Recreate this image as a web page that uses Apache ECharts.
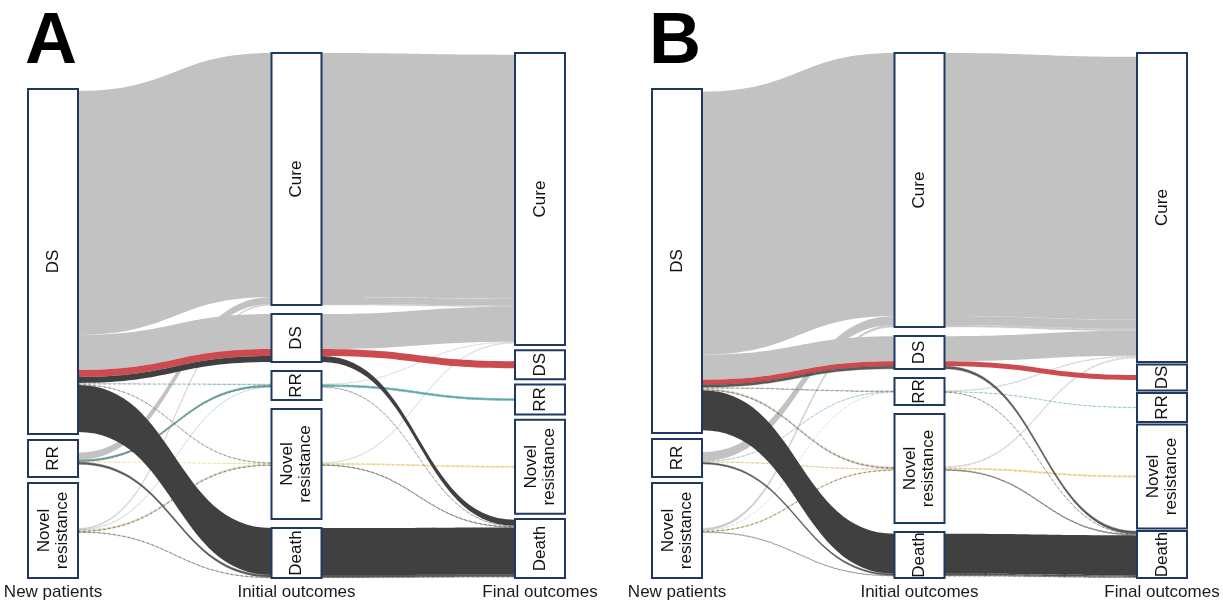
<!DOCTYPE html>
<html><head><meta charset="utf-8">
<script src="https://cdn.jsdelivr.net/npm/echarts@6/dist/echarts.min.js"></script>
<style>html,body{margin:0;padding:0;background:#fff}#chart{width:1223px;height:607px}</style>
</head><body><div id="chart"></div>
<script>
// ---------- data ----------
const stageLabels = ['New patients', 'Initial outcomes', 'Final outcomes'];
const newCategories = ['DS', 'RR', 'Novel\nresistance'];
const outcomeCategories = ['Cure', 'DS', 'RR', 'Novel\nresistance', 'Death'];
const panelLetters = ['A', 'B'];

// displayed node sizes (patients)
const nodeSizesA_new = [345, 37, 95];
const nodeSizesA_initial = [252, 48, 29, 110, 50];
const nodeSizesA_final = [292, 29, 30, 94, 59];
const nodeSizesB_new = [344, 38, 95];
const nodeSizesB_initial = [274, 33, 27, 109, 46];
const nodeSizesB_final = [309, 26, 29, 104, 47];

// patient paths: [new patient type, initial outcome, final outcome, patients]
// indices: new = DS,RR,Novel ; outcome = Cure,DS,RR,Novel,Death
const pathsA = [
  [0, 0, 0, 244], [0, 1, 0, 35], [0, 1, 1, 7], [0, 1, 4, 6],
  [0, 2, 0, 0.8], [0, 2, 2, 0.6], [0, 3, 0, 0.4], [0, 3, 4, 0.4], [0, 4, 4, 47],
  [1, 0, 0, 7], [1, 2, 2, 1.2], [1, 2, 4, 0.7], [1, 3, 3, 0.5], [1, 4, 4, 2],
  [2, 0, 0, 1], [2, 2, 2, 0.4], [2, 3, 0, 0.5], [2, 3, 3, 0.8], [2, 3, 4, 0.5], [2, 4, 4, 0.8]
];
const pathsB = [
  [0, 0, 0, 263], [0, 1, 0, 25], [0, 1, 1, 5], [0, 1, 4, 2.5],
  [0, 2, 0, 0.6], [0, 2, 4, 0.4], [0, 3, 0, 0.8], [0, 3, 3, 0.6], [0, 3, 4, 0.8], [0, 4, 4, 40],
  [1, 0, 0, 9], [1, 2, 2, 0.5], [1, 3, 0, 0.5], [1, 3, 3, 0.4], [1, 4, 4, 1.5],
  [2, 0, 0, 2], [2, 2, 0, 0.4], [2, 3, 3, 0.6], [2, 3, 4, 0.4], [2, 4, 4, 0.8]
];

// ---------- style / layout ----------
const outcomeColors = ['#c2c2c2', '#cd4a4f', '#4a9e9a', '#e0c25c', '#404040'];
const SPAN = 525, BOX_W = 50, GAP = 6;
const FONT = 'Liberation Sans, Arial, sans-serif';

function buildPanel(sNew, sInit, sFinal, paths) {
  const tot = [sNew.map(() => 0), sInit.map(() => 0), sFinal.map(() => 0)];
  paths.forEach(p => { tot[0][p[0]] += p[3]; tot[1][p[1]] += p[3]; tot[2][p[2]] += p[3]; });
  const box = [sNew, sInit, sFinal].map((c, ci) => c.map((s, i) => Math.max(s, tot[ci][i])));
  const aligns = ['bottom', 'justify', 'justify'];
  const tops = box.map((c, ci) => {
    const sum = c.reduce((a, b) => a + b, 0);
    let gap, y;
    if (aligns[ci] === 'justify') { gap = (SPAN - sum) / (c.length - 1); y = 0; }
    else { gap = GAP; y = SPAN - sum - gap * (c.length - 1); }
    return c.map(s => { const t = y; y += s + gap; return t; });
  });
  function stack(col, key, sortKeys) {
    const pos = [];
    box[col].forEach((s, i) => {
      const ids = paths.map((p, k) => k).filter(k => paths[k][key] === i);
      ids.sort((a, b) => {
        for (const sk of sortKeys) { const d = paths[a][sk] - paths[b][sk]; if (d) return d; }
        return a - b;
      });
      let y = tops[col][i] + (s - tot[col][i]) / 2;
      ids.forEach(k => { pos[k] = y; y += paths[k][3]; });
    });
    return pos;
  }
  const out0 = stack(0, 0, [1, 2]);
  const in1 = stack(1, 1, [0, 2]);
  const out1 = stack(1, 1, [2, 0]);
  const in2 = stack(2, 2, [1, 0]);
  const ribbons = [];
  paths.forEach((p, k) => {
    ribbons.push([0, out0[k], out0[k] + p[3], in1[k], in1[k] + p[3], p[2], p[3]]);
    ribbons.push([1, out1[k], out1[k] + p[3], in2[k], in2[k] + p[3], p[2], p[3]]);
  });
  ribbons.sort((a, b) => a[5] - b[5]);
  const boxes = [], names = [];
  box.forEach((c, ci) => c.forEach((s, i) => {
    boxes.push([ci, tops[ci][i], tops[ci][i] + s]);
    names.push(ci === 0 ? newCategories[i] : outcomeCategories[i]);
  }));
  return { ribbons, boxes, names };
}

const panels = [
  buildPanel(nodeSizesA_new, nodeSizesA_initial, nodeSizesA_final, pathsA),
  buildPanel(nodeSizesB_new, nodeSizesB_initial, nodeSizesB_final, pathsB)
];

function renderRibbon(params, api) {
  const s = api.value(0);
  const a = api.coord([s, api.value(1)]), b = api.coord([s, api.value(2)]);
  const c = api.coord([s + 1, api.value(3)]), d = api.coord([s + 1, api.value(4)]);
  const x0 = a[0] + BOX_W / 2, x1 = c[0] - BOX_W / 2, xm = (x0 + x1) / 2;
  const pd = 'M' + x0 + ',' + a[1] + ' C' + xm + ',' + a[1] + ' ' + xm + ',' + c[1] + ' ' + x1 + ',' + c[1] +
    ' L' + x1 + ',' + d[1] + ' C' + xm + ',' + d[1] + ' ' + xm + ',' + b[1] + ' ' + x0 + ',' + b[1] + ' Z';
  const col = outcomeColors[api.value(5)];
  const v = api.value(6);
  const style = v < 1
    ? { fill: col, stroke: col, lineWidth: 0.6, lineDash: [2, 3], opacity: 0.5 }
    : { fill: col, stroke: v < 3 ? col : null, lineWidth: 0.4, opacity: v < 3 ? 0.85 : 1 };
  return { type: 'path', shape: { pathData: pd }, style: style, silent: true };
}

function boxRenderer(names) {
  return function (params, api) {
    const s = api.value(0);
    const t = api.coord([s, api.value(1)]), b = api.coord([s, api.value(2)]);
    return {
      type: 'group', children: [
        { type: 'rect', shape: { x: t[0] - BOX_W / 2, y: t[1], width: BOX_W, height: b[1] - t[1] },
          style: { fill: '#ffffff', stroke: '#1f3763', lineWidth: 2 } },
        { type: 'text', x: t[0], y: (t[1] + b[1]) / 2, rotation: Math.PI / 2,
          style: { text: names[params.dataIndex], align: 'center', verticalAlign: 'middle',
                   fontSize: 17, fontFamily: FONT, fill: '#111111', lineHeight: 18 } }
      ]
    };
  };
}

const gridPos = [{ left: 53, right: 683 }, { left: 677, right: 61 }];
const option = {
  animation: false,
  backgroundColor: '#ffffff',
  graphic: panelLetters.map((L, i) => ({
    type: 'text', left: i === 0 ? 25 : 649, top: 7,
    style: { text: L, fontSize: 72, fontWeight: 'bold', fontFamily: FONT, fill: '#000000' }
  })),
  grid: gridPos.map(g => ({ left: g.left, right: g.right, top: 53, bottom: 29 })),
  xAxis: gridPos.map((g, i) => ({
    type: 'value', gridIndex: i, min: 0, max: 2, interval: 1,
    axisLine: { show: false, onZero: false }, axisTick: { show: false }, splitLine: { show: false },
    axisLabel: { formatter: v => stageLabels[v] || '', fontSize: 17, fontFamily: FONT, color: '#1a1a1a',
                 margin: 6, showMinLabel: true, showMaxLabel: true }
  })),
  yAxis: gridPos.map((g, i) => ({
    type: 'value', gridIndex: i, min: 0, max: SPAN, inverse: true, show: false
  })),
  series: []
};
panels.forEach((P, i) => {
  option.series.push({ type: 'custom', xAxisIndex: i, yAxisIndex: i, data: P.ribbons,
    renderItem: renderRibbon, encode: { x: 0, y: 1 }, silent: true, z: 1 });
  option.series.push({ type: 'custom', xAxisIndex: i, yAxisIndex: i, data: P.boxes,
    renderItem: boxRenderer(P.names), encode: { x: 0, y: 1 }, silent: true, z: 2 });
});
const chart = echarts.init(document.getElementById('chart'), null, { renderer: 'canvas' });
chart.setOption(option);
</script>
</body></html>
